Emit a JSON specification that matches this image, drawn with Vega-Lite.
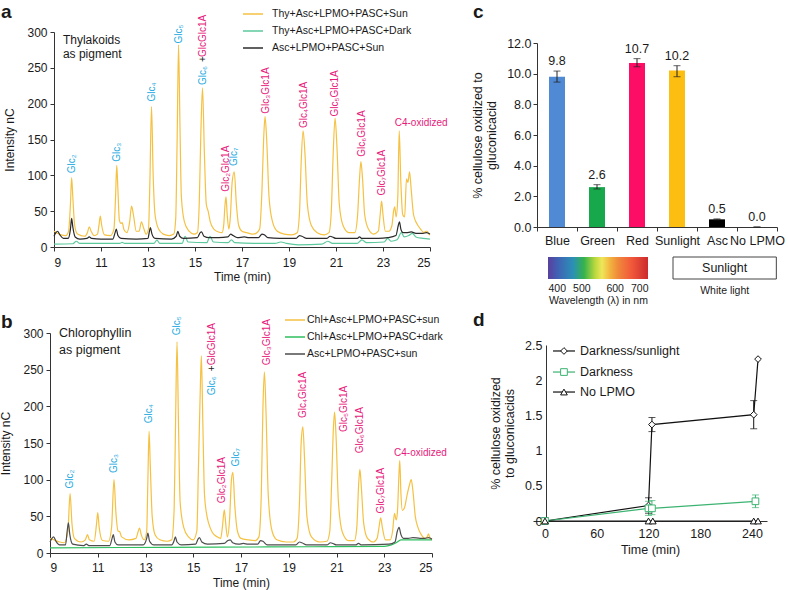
{
"$schema": "https://vega.github.io/schema/vega-lite/v6.json",
"width": 788, "height": 590,
"autosize": {"type": "none"},
"padding": 0,
"background": "white",
"config": {
  "font": "Liberation Sans",
  "view": {"stroke": null},
  "axis": {"grid": false, "domainColor": "#333", "tickColor": "#333", "labelColor": "#1a1a1a", "titleColor": "#1a1a1a", "titleFontWeight": "normal", "labelFont": "Liberation Sans", "titleFont": "Liberation Sans"},
  "legend": {"labelFont": "Liberation Sans", "labelColor": "#1a1a1a"},
  "text": {"font": "Liberation Sans", "color": "#1a1a1a"}
},
"datasets": {
"a": [
{"s":"y","t":9,"v":22},{"s":"y","t":9.1,"v":20},{"s":"y","t":9.3,"v":17},{"s":"y","t":9.5,"v":16},{"s":"y","t":9.62,"v":22},{"s":"y","t":9.7,"v":60},{"s":"y","t":9.75,"v":97},{"s":"y","t":9.8,"v":70},{"s":"y","t":9.88,"v":30},{"s":"y","t":10,"v":18},{"s":"y","t":10.3,"v":15},{"s":"y","t":10.42,"v":20},{"s":"y","t":10.5,"v":28},{"s":"y","t":10.58,"v":22},{"s":"y","t":10.7,"v":16},{"s":"y","t":10.85,"v":18},{"s":"y","t":10.92,"v":32},{"s":"y","t":10.97,"v":43},{"s":"y","t":11.03,"v":30},{"s":"y","t":11.15,"v":17},{"s":"y","t":11.4,"v":16},{"s":"y","t":11.55,"v":25},{"s":"y","t":11.62,"v":70},{"s":"y","t":11.67,"v":114},{"s":"y","t":11.72,"v":80},{"s":"y","t":11.78,"v":38},{"s":"y","t":11.85,"v":33},{"s":"y","t":11.9,"v":34},{"s":"y","t":11.98,"v":24},{"s":"y","t":12.1,"v":20},{"s":"y","t":12.22,"v":35},{"s":"y","t":12.3,"v":57},{"s":"y","t":12.38,"v":45},{"s":"y","t":12.5,"v":22},{"s":"y","t":12.62,"v":22},{"s":"y","t":12.72,"v":35},{"s":"y","t":12.8,"v":28},{"s":"y","t":12.92,"v":18},{"s":"y","t":13.02,"v":25},{"s":"y","t":13.08,"v":90},{"s":"y","t":13.15,"v":196},{"s":"y","t":13.22,"v":100},{"s":"y","t":13.3,"v":45},{"s":"y","t":13.45,"v":25},{"s":"y","t":13.65,"v":18},{"s":"y","t":13.9,"v":16},{"s":"y","t":14.1,"v":18},{"s":"y","t":14.18,"v":40},{"s":"y","t":14.24,"v":150},{"s":"y","t":14.3,"v":282},{"s":"y","t":14.36,"v":170},{"s":"y","t":14.42,"v":70},{"s":"y","t":14.55,"v":35},{"s":"y","t":14.75,"v":22},{"s":"y","t":14.95,"v":18},{"s":"y","t":15.1,"v":20},{"s":"y","t":15.18,"v":60},{"s":"y","t":15.25,"v":160},{"s":"y","t":15.32,"v":222},{"s":"y","t":15.4,"v":130},{"s":"y","t":15.48,"v":60},{"s":"y","t":15.56,"v":50},{"s":"y","t":15.65,"v":35},{"s":"y","t":15.8,"v":25},{"s":"y","t":16,"v":21},{"s":"y","t":16.15,"v":20},{"s":"y","t":16.22,"v":30},{"s":"y","t":16.28,"v":60},{"s":"y","t":16.32,"v":70},{"s":"y","t":16.37,"v":45},{"s":"y","t":16.44,"v":25},{"s":"y","t":16.5,"v":40},{"s":"y","t":16.58,"v":90},{"s":"y","t":16.67,"v":105},{"s":"y","t":16.76,"v":60},{"s":"y","t":16.86,"v":30},{"s":"y","t":17,"v":22},{"s":"y","t":17.2,"v":20},{"s":"y","t":17.45,"v":18},{"s":"y","t":17.6,"v":19},{"s":"y","t":17.75,"v":25},{"s":"y","t":17.85,"v":80},{"s":"y","t":17.92,"v":150},{"s":"y","t":17.98,"v":182},{"s":"y","t":18.05,"v":150},{"s":"y","t":18.15,"v":70},{"s":"y","t":18.3,"v":35},{"s":"y","t":18.5,"v":22},{"s":"y","t":18.8,"v":18},{"s":"y","t":19.1,"v":17},{"s":"y","t":19.35,"v":20},{"s":"y","t":19.45,"v":50},{"s":"y","t":19.52,"v":120},{"s":"y","t":19.6,"v":162},{"s":"y","t":19.68,"v":130},{"s":"y","t":19.78,"v":60},{"s":"y","t":19.95,"v":30},{"s":"y","t":20.2,"v":20},{"s":"y","t":20.5,"v":17},{"s":"y","t":20.7,"v":20},{"s":"y","t":20.8,"v":50},{"s":"y","t":20.88,"v":130},{"s":"y","t":20.96,"v":180},{"s":"y","t":21.04,"v":140},{"s":"y","t":21.14,"v":60},{"s":"y","t":21.3,"v":30},{"s":"y","t":21.55,"v":20},{"s":"y","t":21.8,"v":20},{"s":"y","t":21.92,"v":45},{"s":"y","t":22,"v":95},{"s":"y","t":22.06,"v":119},{"s":"y","t":22.13,"v":95},{"s":"y","t":22.22,"v":45},{"s":"y","t":22.38,"v":25},{"s":"y","t":22.6,"v":18},{"s":"y","t":22.8,"v":22},{"s":"y","t":22.88,"v":45},{"s":"y","t":22.94,"v":64},{"s":"y","t":23,"v":45},{"s":"y","t":23.1,"v":22},{"s":"y","t":23.25,"v":22},{"s":"y","t":23.38,"v":30},{"s":"y","t":23.45,"v":50},{"s":"y","t":23.5,"v":56},{"s":"y","t":23.56,"v":42},{"s":"y","t":23.63,"v":70},{"s":"y","t":23.69,"v":162},{"s":"y","t":23.76,"v":90},{"s":"y","t":23.84,"v":45},{"s":"y","t":23.92,"v":42},{"s":"y","t":24,"v":95},{"s":"y","t":24.06,"v":90},{"s":"y","t":24.13,"v":105},{"s":"y","t":24.2,"v":80},{"s":"y","t":24.3,"v":45},{"s":"y","t":24.45,"v":32},{"s":"y","t":24.6,"v":25},{"s":"y","t":24.75,"v":20},{"s":"y","t":24.82,"v":22},{"s":"y","t":24.88,"v":22},{"s":"y","t":24.95,"v":18},{"s":"y","t":25,"v":17},
{"s":"g","t":9,"v":4},{"s":"g","t":9.8,"v":4.5},{"s":"g","t":9.95,"v":8},{"s":"g","t":10.1,"v":5},{"s":"g","t":11.8,"v":5},{"s":"g","t":11.9,"v":6.5},{"s":"g","t":12,"v":5},{"s":"g","t":13.25,"v":5},{"s":"g","t":13.38,"v":9.5},{"s":"g","t":13.5,"v":5},{"s":"g","t":14.45,"v":5},{"s":"g","t":14.58,"v":15},{"s":"g","t":14.7,"v":7},{"s":"g","t":15.5,"v":6},{"s":"g","t":15.64,"v":15},{"s":"g","t":15.78,"v":7},{"s":"g","t":16.4,"v":6},{"s":"g","t":16.55,"v":10},{"s":"g","t":16.7,"v":6},{"s":"g","t":17.5,"v":5},{"s":"g","t":18.4,"v":5},{"s":"g","t":18.65,"v":7},{"s":"g","t":18.9,"v":5},{"s":"g","t":19.4,"v":3},{"s":"g","t":20.4,"v":4},{"s":"g","t":20.65,"v":8},{"s":"g","t":20.85,"v":5},{"s":"g","t":21.9,"v":5},{"s":"g","t":22.1,"v":10},{"s":"g","t":22.3,"v":6},{"s":"g","t":23.05,"v":7},{"s":"g","t":23.2,"v":12},{"s":"g","t":23.35,"v":8},{"s":"g","t":23.6,"v":10},{"s":"g","t":23.78,"v":20},{"s":"g","t":23.9,"v":14},{"s":"g","t":24.1,"v":16},{"s":"g","t":24.25,"v":19},{"s":"g","t":24.4,"v":14},{"s":"g","t":24.7,"v":12},{"s":"g","t":25,"v":11},
{"s":"k","t":9,"v":15},{"s":"k","t":9.08,"v":20},{"s":"k","t":9.15,"v":22},{"s":"k","t":9.25,"v":17},{"s":"k","t":9.4,"v":12},{"s":"k","t":9.6,"v":12},{"s":"k","t":9.7,"v":25},{"s":"k","t":9.75,"v":40},{"s":"k","t":9.8,"v":28},{"s":"k","t":9.9,"v":14},{"s":"k","t":10.1,"v":11},{"s":"k","t":10.4,"v":12},{"s":"k","t":10.5,"v":14},{"s":"k","t":10.6,"v":12},{"s":"k","t":11,"v":11},{"s":"k","t":11.5,"v":11},{"s":"k","t":11.6,"v":20},{"s":"k","t":11.65,"v":25},{"s":"k","t":11.72,"v":16},{"s":"k","t":11.85,"v":12},{"s":"k","t":12.5,"v":11},{"s":"k","t":13,"v":12},{"s":"k","t":13.05,"v":20},{"s":"k","t":13.1,"v":27},{"s":"k","t":13.17,"v":18},{"s":"k","t":13.3,"v":12},{"s":"k","t":14,"v":11},{"s":"k","t":14.2,"v":15},{"s":"k","t":14.27,"v":22},{"s":"k","t":14.35,"v":15},{"s":"k","t":14.5,"v":12},{"s":"k","t":15.1,"v":13},{"s":"k","t":15.22,"v":20},{"s":"k","t":15.28,"v":21},{"s":"k","t":15.38,"v":15},{"s":"k","t":15.6,"v":13},{"s":"k","t":16,"v":13},{"s":"k","t":16.4,"v":14},{"s":"k","t":16.52,"v":18},{"s":"k","t":16.62,"v":16},{"s":"k","t":16.8,"v":13},{"s":"k","t":17.1,"v":14},{"s":"k","t":17.3,"v":13},{"s":"k","t":17.7,"v":13},{"s":"k","t":17.85,"v":18},{"s":"k","t":17.95,"v":17},{"s":"k","t":18.1,"v":13},{"s":"k","t":18.6,"v":12},{"s":"k","t":19.3,"v":12},{"s":"k","t":19.45,"v":16},{"s":"k","t":19.55,"v":15},{"s":"k","t":19.75,"v":12},{"s":"k","t":20.6,"v":12},{"s":"k","t":20.75,"v":15},{"s":"k","t":20.85,"v":14},{"s":"k","t":21,"v":12},{"s":"k","t":21.9,"v":12},{"s":"k","t":22,"v":14},{"s":"k","t":22.1,"v":12},{"s":"k","t":22.8,"v":12},{"s":"k","t":23.2,"v":13},{"s":"k","t":23.55,"v":16},{"s":"k","t":23.65,"v":30},{"s":"k","t":23.7,"v":35},{"s":"k","t":23.76,"v":25},{"s":"k","t":23.85,"v":20},{"s":"k","t":24,"v":20},{"s":"k","t":24.2,"v":21},{"s":"k","t":24.4,"v":19},{"s":"k","t":24.7,"v":19},{"s":"k","t":24.85,"v":20},{"s":"k","t":25,"v":18}
],
"b": [
{"s":"y","t":9,"v":20},{"s":"y","t":9.15,"v":18},{"s":"y","t":9.4,"v":15},{"s":"y","t":9.6,"v":14},{"s":"y","t":9.75,"v":30},{"s":"y","t":9.84,"v":81},{"s":"y","t":9.92,"v":40},{"s":"y","t":10.02,"v":20},{"s":"y","t":10.3,"v":15},{"s":"y","t":10.48,"v":18},{"s":"y","t":10.57,"v":25},{"s":"y","t":10.65,"v":18},{"s":"y","t":10.85,"v":16},{"s":"y","t":10.95,"v":40},{"s":"y","t":11,"v":55},{"s":"y","t":11.06,"v":35},{"s":"y","t":11.2,"v":17},{"s":"y","t":11.45,"v":16},{"s":"y","t":11.58,"v":35},{"s":"y","t":11.68,"v":100},{"s":"y","t":11.76,"v":55},{"s":"y","t":11.85,"v":30},{"s":"y","t":11.92,"v":29},{"s":"y","t":12,"v":22},{"s":"y","t":12.3,"v":18},{"s":"y","t":12.6,"v":20},{"s":"y","t":12.7,"v":30},{"s":"y","t":12.75,"v":34},{"s":"y","t":12.82,"v":25},{"s":"y","t":12.95,"v":18},{"s":"y","t":13.05,"v":30},{"s":"y","t":13.1,"v":100},{"s":"y","t":13.15,"v":166},{"s":"y","t":13.2,"v":120},{"s":"y","t":13.28,"v":50},{"s":"y","t":13.4,"v":25},{"s":"y","t":13.6,"v":18},{"s":"y","t":13.9,"v":16},{"s":"y","t":14.1,"v":18},{"s":"y","t":14.2,"v":60},{"s":"y","t":14.26,"v":180},{"s":"y","t":14.32,"v":288},{"s":"y","t":14.38,"v":180},{"s":"y","t":14.45,"v":70},{"s":"y","t":14.6,"v":35},{"s":"y","t":14.8,"v":22},{"s":"y","t":15,"v":18},{"s":"y","t":15.15,"v":30},{"s":"y","t":15.22,"v":120},{"s":"y","t":15.3,"v":230},{"s":"y","t":15.34,"v":269},{"s":"y","t":15.4,"v":180},{"s":"y","t":15.47,"v":80},{"s":"y","t":15.55,"v":55},{"s":"y","t":15.65,"v":40},{"s":"y","t":15.8,"v":28},{"s":"y","t":16,"v":22},{"s":"y","t":16.15,"v":20},{"s":"y","t":16.22,"v":35},{"s":"y","t":16.3,"v":59},{"s":"y","t":16.36,"v":40},{"s":"y","t":16.43,"v":22},{"s":"y","t":16.52,"v":45},{"s":"y","t":16.6,"v":100},{"s":"y","t":16.66,"v":110},{"s":"y","t":16.74,"v":65},{"s":"y","t":16.85,"v":30},{"s":"y","t":17,"v":20},{"s":"y","t":17.3,"v":18},{"s":"y","t":17.6,"v":17},{"s":"y","t":17.75,"v":22},{"s":"y","t":17.85,"v":80},{"s":"y","t":17.92,"v":200},{"s":"y","t":17.98,"v":247},{"s":"y","t":18.05,"v":190},{"s":"y","t":18.14,"v":80},{"s":"y","t":18.3,"v":30},{"s":"y","t":18.5,"v":18},{"s":"y","t":18.9,"v":15},{"s":"y","t":19.2,"v":15},{"s":"y","t":19.35,"v":20},{"s":"y","t":19.45,"v":70},{"s":"y","t":19.52,"v":150},{"s":"y","t":19.59,"v":172},{"s":"y","t":19.66,"v":130},{"s":"y","t":19.76,"v":50},{"s":"y","t":19.95,"v":22},{"s":"y","t":20.3,"v":15},{"s":"y","t":20.6,"v":16},{"s":"y","t":20.72,"v":30},{"s":"y","t":20.8,"v":100},{"s":"y","t":20.87,"v":170},{"s":"y","t":20.92,"v":192},{"s":"y","t":20.98,"v":160},{"s":"y","t":21.08,"v":70},{"s":"y","t":21.25,"v":28},{"s":"y","t":21.5,"v":17},{"s":"y","t":21.75,"v":17},{"s":"y","t":21.85,"v":35},{"s":"y","t":21.93,"v":95},{"s":"y","t":21.98,"v":114},{"s":"y","t":22.04,"v":90},{"s":"y","t":22.14,"v":40},{"s":"y","t":22.3,"v":20},{"s":"y","t":22.55,"v":15},{"s":"y","t":22.7,"v":20},{"s":"y","t":22.78,"v":35},{"s":"y","t":22.85,"v":48},{"s":"y","t":22.92,"v":35},{"s":"y","t":23.05,"v":18},{"s":"y","t":23.25,"v":18},{"s":"y","t":23.35,"v":30},{"s":"y","t":23.43,"v":54},{"s":"y","t":23.5,"v":45},{"s":"y","t":23.55,"v":55},{"s":"y","t":23.62,"v":110},{"s":"y","t":23.65,"v":126},{"s":"y","t":23.7,"v":80},{"s":"y","t":23.76,"v":58},{"s":"y","t":23.85,"v":62},{"s":"y","t":23.95,"v":78},{"s":"y","t":24.05,"v":92},{"s":"y","t":24.13,"v":100},{"s":"y","t":24.2,"v":85},{"s":"y","t":24.3,"v":50},{"s":"y","t":24.4,"v":36},{"s":"y","t":24.55,"v":25},{"s":"y","t":24.7,"v":20},{"s":"y","t":24.8,"v":22},{"s":"y","t":24.85,"v":26},{"s":"y","t":24.92,"v":20},{"s":"y","t":25,"v":18},
{"s":"g","t":9,"v":7},{"s":"g","t":12,"v":7.5},{"s":"g","t":16,"v":8},{"s":"g","t":20,"v":8.5},{"s":"g","t":23,"v":9},{"s":"g","t":23.3,"v":11},{"s":"g","t":23.5,"v":14},{"s":"g","t":23.7,"v":18},{"s":"g","t":23.9,"v":18},{"s":"g","t":24.5,"v":18},{"s":"g","t":25,"v":18},
{"s":"k","t":9,"v":15},{"s":"k","t":9.08,"v":20},{"s":"k","t":9.15,"v":22},{"s":"k","t":9.25,"v":16},{"s":"k","t":9.4,"v":11},{"s":"k","t":9.65,"v":11},{"s":"k","t":9.72,"v":30},{"s":"k","t":9.77,"v":41},{"s":"k","t":9.83,"v":25},{"s":"k","t":9.95,"v":12},{"s":"k","t":10.4,"v":10},{"s":"k","t":10.52,"v":12},{"s":"k","t":10.65,"v":10},{"s":"k","t":11.5,"v":10},{"s":"k","t":11.6,"v":20},{"s":"k","t":11.65,"v":25},{"s":"k","t":11.72,"v":15},{"s":"k","t":11.85,"v":11},{"s":"k","t":12.9,"v":11},{"s":"k","t":13.05,"v":20},{"s":"k","t":13.1,"v":27},{"s":"k","t":13.17,"v":16},{"s":"k","t":13.35,"v":11},{"s":"k","t":14.1,"v":11},{"s":"k","t":14.2,"v":17},{"s":"k","t":14.25,"v":22},{"s":"k","t":14.32,"v":15},{"s":"k","t":14.5,"v":11},{"s":"k","t":15.1,"v":12},{"s":"k","t":15.2,"v":19},{"s":"k","t":15.26,"v":21},{"s":"k","t":15.36,"v":15},{"s":"k","t":15.6,"v":12},{"s":"k","t":16.3,"v":13},{"s":"k","t":16.45,"v":17},{"s":"k","t":16.55,"v":18},{"s":"k","t":16.65,"v":14},{"s":"k","t":16.9,"v":12},{"s":"k","t":17.1,"v":13},{"s":"k","t":17.3,"v":12},{"s":"k","t":17.7,"v":12},{"s":"k","t":17.82,"v":17},{"s":"k","t":17.92,"v":16},{"s":"k","t":18.1,"v":11},{"s":"k","t":19.3,"v":11},{"s":"k","t":19.45,"v":15},{"s":"k","t":19.55,"v":14},{"s":"k","t":19.75,"v":11},{"s":"k","t":20.6,"v":11},{"s":"k","t":20.75,"v":14},{"s":"k","t":20.85,"v":13},{"s":"k","t":21,"v":11},{"s":"k","t":21.8,"v":11},{"s":"k","t":21.92,"v":13},{"s":"k","t":22.05,"v":11},{"s":"k","t":23.2,"v":12},{"s":"k","t":23.45,"v":15},{"s":"k","t":23.55,"v":30},{"s":"k","t":23.62,"v":35},{"s":"k","t":23.7,"v":25},{"s":"k","t":23.8,"v":20},{"s":"k","t":24,"v":20},{"s":"k","t":24.2,"v":21},{"s":"k","t":24.5,"v":20},{"s":"k","t":24.7,"v":20},{"s":"k","t":24.85,"v":21},{"s":"k","t":25,"v":19}
],
"la": [
{"t":9.75,"v":103,"lab":"Glc₂","k":"c"},{"t":11.67,"v":119,"lab":"Glc₃","k":"c"},{"t":13.15,"v":203,"lab":"Glc₄","k":"c"},{"t":14.3,"v":284,"lab":"Glc₅","k":"c"},{"t":15.33,"v":226,"lab":"Glc₆","k":"c"},{"t":15.33,"v":258,"lab":"+","k":"p"},{"t":15.33,"v":265,"lab":"GlcGlc1A","k":"m"},{"t":16.32,"v":77,"lab":"Glc₂Glc1A","k":"m"},{"t":16.68,"v":113,"lab":"Glc₇","k":"c"},{"t":18.0,"v":186,"lab":"Glc₃Glc1A","k":"m"},{"t":19.63,"v":166,"lab":"Glc₄Glc1A","k":"m"},{"t":20.97,"v":182,"lab":"Glc₅Glc1A","k":"m"},{"t":22.1,"v":126,"lab":"Glc₆Glc1A","k":"m"},{"t":22.95,"v":72,"lab":"Glc₇Glc1A","k":"m"}
],
"lb": [
{"t":9.84,"v":88,"lab":"Glc₂","k":"c"},{"t":11.68,"v":109,"lab":"Glc₃","k":"c"},{"t":13.15,"v":177,"lab":"Glc₄","k":"c"},{"t":14.32,"v":297,"lab":"Glc₅","k":"c"},{"t":15.78,"v":215,"lab":"Glc₆","k":"c"},{"t":15.78,"v":248,"lab":"+","k":"p"},{"t":15.78,"v":256,"lab":"GlcGlc1A","k":"m"},{"t":16.22,"v":68,"lab":"Glc₂Glc1A","k":"m"},{"t":16.78,"v":118,"lab":"Glc₇","k":"c"},{"t":18.09,"v":256,"lab":"Glc₃Glc1A","k":"m"},{"t":19.6,"v":184,"lab":"Glc₄Glc1A","k":"m"},{"t":21.31,"v":165,"lab":"Glc₅Glc1A","k":"m"},{"t":22.0,"v":136,"lab":"Glc₆Glc1A","k":"m"},{"t":22.85,"v":54,"lab":"Glc₇Glc1A","k":"m"}
],
"c": [
{"c":"Blue","m":9.8,"lo":9.45,"hi":10.17},{"c":"Green","m":2.6,"lo":2.48,"hi":2.76},{"c":"Red","m":10.7,"lo":10.45,"hi":10.98},{"c":"Sunlight","m":10.2,"lo":9.8,"hi":10.52},{"c":"Asc","m":0.5,"lo":0.47,"hi":0.53},{"c":"No LPMO","m":0.0,"lo":0,"hi":0}
],
"dp": [
{"s":"Darkness/sunlight","t":0,"v":0},{"s":"Darkness/sunlight","t":120,"v":0.22},{"s":"Darkness/sunlight","t":124,"v":1.37},{"s":"Darkness/sunlight","t":242,"v":1.51},{"s":"Darkness/sunlight","t":247,"v":2.3},
{"s":"Darkness","t":0,"v":0},{"s":"Darkness","t":120,"v":0.18},{"s":"Darkness","t":124,"v":0.18},{"s":"Darkness","t":244,"v":0.28},
{"s":"No LPMO","t":0,"v":0},{"s":"No LPMO","t":120,"v":0},{"s":"No LPMO","t":125,"v":0},{"s":"No LPMO","t":242,"v":0},{"s":"No LPMO","t":247,"v":0}
],
"de": [
{"s":"Darkness/sunlight","t":0,"lo":0,"hi":0.05},{"s":"Darkness/sunlight","t":120,"lo":0.11,"hi":0.33},{"s":"Darkness/sunlight","t":124,"lo":1.27,"hi":1.47},{"s":"Darkness/sunlight","t":242,"lo":1.31,"hi":1.71},{"s":"Darkness","t":120,"lo":0.08,"hi":0.28},{"s":"Darkness","t":124,"lo":0.09,"hi":0.29},{"s":"Darkness","t":244,"lo":0.19,"hi":0.37}
]
},
"layer": [
{
 "layer": [
  {"data": {"name": "a"}, "mark": {"type": "line", "interpolate": "monotone", "strokeWidth": 1.2},
   "encoding": {
    "x": {"field": "t", "type": "quantitative", "scale": {"domain": [9, 25], "range": [54, 430], "nice": false, "zero": false},
      "axis": {"orient": "bottom", "offset": -343, "values": [9,11,13,15,17,19,21,23,25], "title": "Time (min)", "labelFontSize": 12, "titleFontSize": 12, "tickSize": 4, "labelPadding": 6, "titlePadding": 3}},
    "y": {"field": "v", "type": "quantitative", "scale": {"domain": [0, 300], "range": [247, 32], "nice": false, "zero": false},
      "axis": {"orient": "left", "offset": -54, "values": [0,50,100,150,200,250,300], "title": "Intensity nC", "labelFontSize": 12, "titleFontSize": 12, "tickSize": 4, "labelPadding": 3, "titlePadding": 10}},
    "color": {"field": "s", "type": "nominal", "scale": {"domain": ["y","g","k"], "range": ["#f5c142","#5cc99d","#2b2b2b"]},
      "legend": {"orient": "none", "legendX": 242, "legendY": 3, "title": null, "padding": 0, "symbolType": "stroke", "symbolSize": 400, "symbolStrokeWidth": 1.5, "labelFontSize": 10.5, "rowPadding": -1.5, "labelOffset": 8,
        "labelExpr": "datum.value=='y'?'Thy+Asc+LPMO+PASC+Sun':datum.value=='g'?'Thy+Asc+LPMO+PASC+Dark':'Asc+LPMO+PASC+Sun'"}}
   }},
  {"data": {"name": "la"}, "mark": {"type": "text", "angle": 270, "align": "left", "baseline": "middle", "fontSize": 10},
   "encoding": {"x": {"field": "t", "type": "quantitative"}, "y": {"field": "v", "type": "quantitative"}, "text": {"field": "lab"},
     "fill": {"field": "k", "type": "nominal", "scale": {"domain": ["c","m","p"], "range": ["#27aae1","#e8197b","#222222"]}, "legend": null}}},
  {"data": {"values": [{}]}, "mark": {"type": "text", "align": "left", "baseline": "middle", "fontSize": 10, "color": "#e8197b"},
   "encoding": {"x": {"datum": 23.5}, "y": {"datum": 173}, "text": {"value": "C4-oxidized"}}},
  {"data": {"values": [{}]}, "mark": {"type": "text", "align": "left", "baseline": "middle", "fontSize": 12, "lineHeight": 14.5},
   "encoding": {"x": {"datum": 9.38}, "y": {"datum": 289}, "text": {"value": ["Thylakoids", "as pigment"]}}},
  {"data": {"values": [{}]}, "mark": {"type": "text", "align": "left", "baseline": "alphabetic", "fontSize": 19, "fontWeight": "bold"},
   "encoding": {"x": {"datum": 6.74}, "y": {"datum": 319.5}, "text": {"value": "a"}}}
 ]
},
{
 "layer": [
  {"data": {"name": "b"}, "mark": {"type": "line", "interpolate": "monotone", "strokeWidth": 1.2},
   "encoding": {
    "x": {"field": "t", "type": "quantitative", "scale": {"domain": [9, 25], "range": [50, 432], "nice": false, "zero": false},
      "axis": {"orient": "bottom", "offset": -37, "values": [9,11,13,15,17,19,21,23,25], "title": "Time (min)", "labelFontSize": 12, "titleFontSize": 12, "tickSize": 4, "labelPadding": 5, "titlePadding": 4}},
    "y": {"field": "v", "type": "quantitative", "scale": {"domain": [0, 300], "range": [553, 333], "nice": false, "zero": false},
      "axis": {"orient": "left", "offset": -50, "values": [0,50,100,150,200,250,300], "title": "Intensity nC", "labelFontSize": 12, "titleFontSize": 12, "tickSize": 4, "labelPadding": 3, "titlePadding": 10}},
    "color": {"field": "s", "type": "nominal", "scale": {"domain": ["y","g","k"], "range": ["#f5c142","#2fbf5e","#4d4d4d"]},
      "legend": {"orient": "none", "legendX": 284, "legendY": 309, "title": null, "padding": 0, "symbolType": "stroke", "symbolSize": 400, "symbolStrokeWidth": 1.5, "labelFontSize": 10.5, "rowPadding": -3.5, "labelOffset": 1,
        "labelExpr": "datum.value=='y'?'Chl+Asc+LPMO+PASC+sun':datum.value=='g'?'Chl+Asc+LPMO+PASC+dark':'Asc+LPMO+PASC+sun'"}}
   }},
  {"data": {"name": "lb"}, "mark": {"type": "text", "angle": 270, "align": "left", "baseline": "middle", "fontSize": 10},
   "encoding": {"x": {"field": "t", "type": "quantitative"}, "y": {"field": "v", "type": "quantitative"}, "text": {"field": "lab"},
     "fill": {"field": "k", "type": "nominal", "scale": {"domain": ["c","m","p"], "range": ["#27aae1","#e8197b","#222222"]}, "legend": null}}},
  {"data": {"values": [{}]}, "mark": {"type": "text", "align": "left", "baseline": "middle", "fontSize": 10, "color": "#e8197b"},
   "encoding": {"x": {"datum": 23.41}, "y": {"datum": 137}, "text": {"value": "C4-oxidized"}}},
  {"data": {"values": [{}]}, "mark": {"type": "text", "align": "left", "baseline": "middle", "fontSize": 12.5, "lineHeight": 16.5},
   "encoding": {"x": {"datum": 9.38}, "y": {"datum": 300}, "text": {"value": ["Chlorophyllin", "as pigment"]}}},
  {"data": {"values": [{}]}, "mark": {"type": "text", "align": "left", "baseline": "alphabetic", "fontSize": 19, "fontWeight": "bold"},
   "encoding": {"x": {"datum": 6.95}, "y": {"datum": 306.8}, "text": {"value": "b"}}}
 ]
},
{
 "data": {"name": "c"},
 "layer": [
  {"mark": {"type": "bar", "size": 16},
   "encoding": {
    "x": {"field": "c", "type": "nominal", "sort": null, "scale": {"domain": ["Blue","Green","Red","Sunlight","Asc","No LPMO"], "range": [537, 777], "paddingInner": 0, "paddingOuter": 0},
      "axis": {"orient": "bottom", "offset": -363, "title": null, "labelAngle": 0, "tickBand": "extent", "tickSize": 4, "labelPadding": 3, "labelFontSize": 12.5}},
    "y": {"field": "m", "type": "quantitative", "scale": {"domain": [0, 12], "range": [227, 43], "nice": false, "zero": false},
      "axis": {"orient": "left", "offset": -537, "values": [0,2,4,6,8,10,12], "format": ".1f", "title": ["% cellulose oxidized to", "gluconicacid"], "labelFontSize": 12.5, "titleFontSize": 12.5, "tickSize": 4, "labelPadding": 2, "titlePadding": 8}},
    "color": {"field": "c", "type": "nominal", "scale": {"domain": ["Blue","Green","Red","Sunlight","Asc","No LPMO"], "range": ["#5089d4","#17a84c","#fe0d67","#fdbe12","#000000","#888888"]}, "legend": null}
   }},
  {"mark": {"type": "rule", "color": "#222", "strokeWidth": 1},
   "encoding": {"x": {"field": "c", "type": "nominal", "sort": null}, "y": {"field": "lo", "type": "quantitative"}, "y2": {"field": "hi"}}},
  {"mark": {"type": "tick", "orient": "horizontal", "size": 7, "thickness": 1, "color": "#222"},
   "encoding": {"x": {"field": "c", "type": "nominal", "sort": null}, "y": {"field": "hi", "type": "quantitative"}}},
  {"mark": {"type": "tick", "orient": "horizontal", "size": 7, "thickness": 1, "color": "#222"},
   "encoding": {"x": {"field": "c", "type": "nominal", "sort": null}, "y": {"field": "lo", "type": "quantitative"}}},
  {"mark": {"type": "text", "dy": -10, "fontSize": 12.5, "baseline": "middle"},
   "encoding": {"x": {"field": "c", "type": "nominal", "sort": null}, "y": {"field": "hi", "type": "quantitative"}, "text": {"field": "m", "type": "quantitative", "format": ".1f"}}}
 ]
},
{
 "data": {"values": [{}]},
 "layer": [
  {"mark": {"type": "rect", "color": {"gradient": "linear", "x1": 0, "x2": 1, "y1": 0, "y2": 0, "stops": [
     {"offset": 0, "color": "#5a3f9e"}, {"offset": 0.1, "color": "#4062b4"}, {"offset": 0.25, "color": "#2b90b6"}, {"offset": 0.36, "color": "#35b24c"}, {"offset": 0.47, "color": "#b9d83e"}, {"offset": 0.54, "color": "#efe65a"}, {"offset": 0.62, "color": "#f3b43f"}, {"offset": 0.7, "color": "#ef8a3a"}, {"offset": 0.83, "color": "#f25a3b"}, {"offset": 1, "color": "#cc2b2d"}]}},
   "encoding": {
    "x": {"datum": 400, "type": "quantitative", "scale": {"domain": [400, 700], "range": [548, 648], "nice": false, "zero": false},
      "axis": {"orient": "bottom", "offset": -309, "values": [400,500,600,700], "domain": false, "ticks": false, "labelFontSize": 10.5, "labelPadding": 2, "title": "Wavelength (λ) in nm", "titleFontSize": 10.5, "titlePadding": 2}},
    "x2": {"datum": 700},
    "y": {"datum": 0, "type": "quantitative", "scale": {"domain": [0, 1], "range": [279, 257], "nice": false, "zero": false}, "axis": null},
    "y2": {"datum": 1}
   }},
  {"mark": {"type": "rect", "fill": "white", "stroke": "#444", "strokeWidth": 1},
   "encoding": {"x": {"datum": 775}, "x2": {"datum": 1085}, "y": {"datum": 0}, "y2": {"datum": 1}}},
  {"mark": {"type": "text", "align": "center", "baseline": "middle", "fontSize": 12.5},
   "encoding": {"x": {"datum": 930}, "y": {"datum": 0.5}, "text": {"value": "Sunlight"}}},
  {"mark": {"type": "text", "align": "center", "baseline": "middle", "fontSize": 10.5},
   "encoding": {"x": {"datum": 930}, "y": {"datum": -0.55}, "text": {"value": "White light"}}},
  {"mark": {"type": "text", "align": "left", "baseline": "alphabetic", "fontSize": 19, "fontWeight": "bold"},
   "encoding": {"x": {"datum": 175}, "y": {"datum": 11.86}, "text": {"value": "c"}}}
 ]
},
{
 "layer": [
  {"data": {"name": "dp"}, "mark": {"type": "line", "strokeWidth": 1.2},
   "encoding": {
    "x": {"field": "t", "type": "quantitative", "scale": {"domain": [-13.9, 257.4], "range": [533, 767], "nice": false, "zero": false},
      "axis": {"orient": "bottom", "offset": -69, "values": [0,60,120,180,240], "ticks": false, "labelPadding": 6, "labelFontSize": 12.5, "title": "Time (min)", "titleFontSize": 12.5, "titlePadding": 4}},
    "y": {"field": "v", "type": "quantitative", "scale": {"domain": [0, 2.5], "range": [521, 345], "nice": false, "zero": false},
      "axis": {"orient": "left", "offset": -546, "values": [0,0.5,1,1.5,2,2.5], "labelExpr": "datum.value", "ticks": false, "labelPadding": 4, "labelFontSize": 12.5, "title": ["% cellulose oxidized", "to gluconicacids"], "titleFontSize": 12.5, "titlePadding": 8}},
    "color": {"field": "s", "type": "nominal", "scale": {"domain": ["Darkness/sunlight","Darkness","No LPMO"], "range": ["#111111","#3cb371","#111111"]}, "legend": null}
   }},
  {"data": {"name": "de"}, "mark": {"type": "rule", "strokeWidth": 1},
   "encoding": {"x": {"field": "t", "type": "quantitative"}, "y": {"field": "lo", "type": "quantitative"}, "y2": {"field": "hi"}, "color": {"field": "s", "type": "nominal", "legend": null}}},
  {"data": {"name": "de"}, "mark": {"type": "tick", "orient": "horizontal", "size": 7, "thickness": 1},
   "encoding": {"x": {"field": "t", "type": "quantitative"}, "y": {"field": "hi", "type": "quantitative"}, "color": {"field": "s", "type": "nominal", "legend": null}}},
  {"data": {"name": "de"}, "mark": {"type": "tick", "orient": "horizontal", "size": 7, "thickness": 1},
   "encoding": {"x": {"field": "t", "type": "quantitative"}, "y": {"field": "lo", "type": "quantitative"}, "color": {"field": "s", "type": "nominal", "legend": null}}},
  {"data": {"name": "dp"}, "mark": {"type": "point", "filled": false, "fill": "white", "strokeWidth": 1, "opacity": 1, "size": 45},
   "encoding": {"x": {"field": "t", "type": "quantitative"}, "y": {"field": "v", "type": "quantitative"}, "color": {"field": "s", "type": "nominal", "legend": null},
     "shape": {"field": "s", "type": "nominal", "scale": {"domain": ["Darkness/sunlight","Darkness","No LPMO"], "range": ["diamond","square","triangle-up"]}, "legend": null}}},
  {"data": {"values": [{}]}, "mark": {"type": "rule", "strokeWidth": 1.2},
   "encoding": {"x": {"datum": 9.3}, "x2": {"datum": 34.8}, "y": {"datum": 2.415}, "color": {"datum": "Darkness/sunlight", "legend": null}}},
  {"data": {"values": [{}]}, "mark": {"type": "rule", "strokeWidth": 1.2},
   "encoding": {"x": {"datum": 9.3}, "x2": {"datum": 34.8}, "y": {"datum": 2.116}, "color": {"datum": "Darkness", "legend": null}}},
  {"data": {"values": [{}]}, "mark": {"type": "rule", "strokeWidth": 1.2},
   "encoding": {"x": {"datum": 9.3}, "x2": {"datum": 34.8}, "y": {"datum": 1.832}, "color": {"datum": "No LPMO", "legend": null}}},
  {"data": {"values": [{}]}, "mark": {"type": "point", "filled": false, "fill": "white", "strokeWidth": 1, "opacity": 1, "size": 45},
   "encoding": {"x": {"datum": 22}, "y": {"datum": 2.415}, "color": {"datum": "Darkness/sunlight", "legend": null}, "shape": {"datum": "Darkness/sunlight", "legend": null}}},
  {"data": {"values": [{}]}, "mark": {"type": "point", "filled": false, "fill": "white", "strokeWidth": 1, "opacity": 1, "size": 45},
   "encoding": {"x": {"datum": 22}, "y": {"datum": 2.116}, "color": {"datum": "Darkness", "legend": null}, "shape": {"datum": "Darkness", "legend": null}}},
  {"data": {"values": [{}]}, "mark": {"type": "point", "filled": false, "fill": "white", "strokeWidth": 1, "opacity": 1, "size": 45},
   "encoding": {"x": {"datum": 22}, "y": {"datum": 1.832}, "color": {"datum": "No LPMO", "legend": null}, "shape": {"datum": "No LPMO", "legend": null}}},
  {"data": {"values": [{}]}, "mark": {"type": "text", "align": "left", "baseline": "middle", "fontSize": 12.5},
   "encoding": {"x": {"datum": 40.6}, "y": {"datum": 2.415}, "text": {"value": "Darkness/sunlight"}}},
  {"data": {"values": [{}]}, "mark": {"type": "text", "align": "left", "baseline": "middle", "fontSize": 12.5},
   "encoding": {"x": {"datum": 40.6}, "y": {"datum": 2.116}, "text": {"value": "Darkness"}}},
  {"data": {"values": [{}]}, "mark": {"type": "text", "align": "left", "baseline": "middle", "fontSize": 12.5},
   "encoding": {"x": {"datum": 40.6}, "y": {"datum": 1.832}, "text": {"value": "No LPMO"}}},
  {"data": {"values": [{}]}, "mark": {"type": "text", "align": "left", "baseline": "alphabetic", "fontSize": 19, "fontWeight": "bold"},
   "encoding": {"x": {"datum": -83.5}, "y": {"datum": 2.77}, "text": {"value": "d"}}}
 ]
}
],
"resolve": {
 "scale": {"x": "independent", "y": "independent", "color": "independent", "fill": "independent", "shape": "independent"},
 "axis": {"x": "independent", "y": "independent"},
 "legend": {"color": "independent", "fill": "independent", "shape": "independent"}
}
}
